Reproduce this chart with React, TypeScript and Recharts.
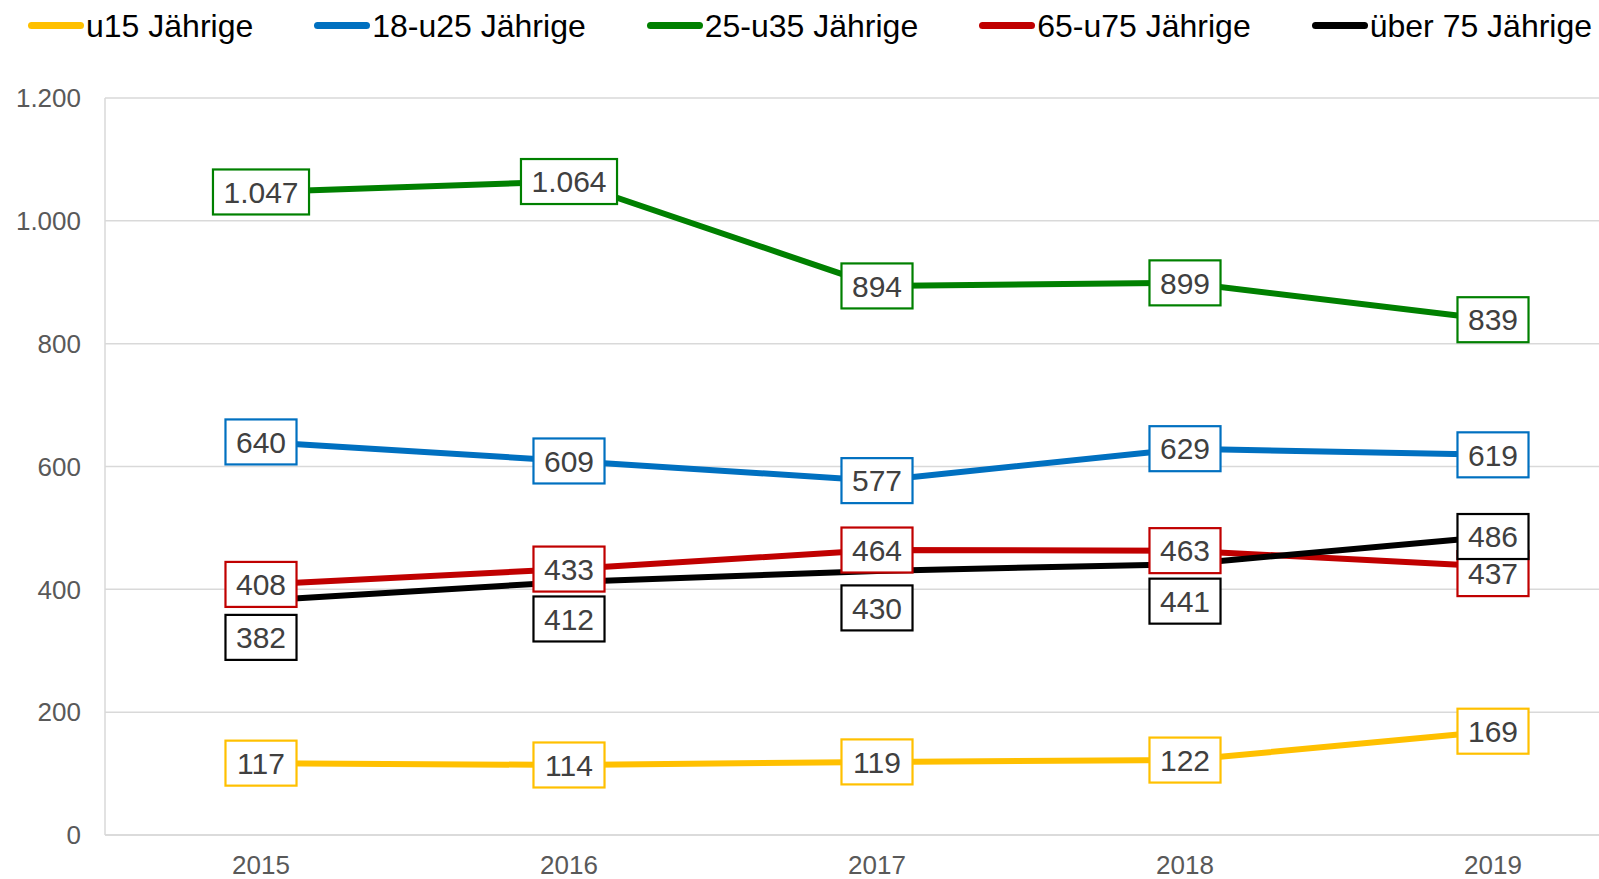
import { LineChart, Line, XAxis, YAxis, CartesianGrid, Legend, LabelList } from 'recharts';

const years = ['2015', '2016', '2017', '2018', '2019'];
const u15 = [117, 114, 119, 122, 169];
const u25 = [640, 609, 577, 629, 619];
const u35 = [1047, 1064, 894, 899, 839];
const u75 = [408, 433, 464, 463, 437];
const ue75 = [382, 412, 430, 441, 486];
const yTicks = [0, 200, 400, 600, 800, 1000, 1200];

const series = [
  { key: 'u15', name: 'u15 Jährige', color: '#FFC000', values: u15 },
  { key: 'u25', name: '18-u25 Jährige', color: '#0070C0', values: u25 },
  { key: 'u35', name: '25-u35 Jährige', color: '#008000', values: u35 },
  { key: 'u75', name: '65-u75 Jährige', color: '#C00000', values: u75 },
  { key: 'ue75', name: 'über 75 Jährige', color: '#000000', values: ue75 },
];

// label shifts (px) where Excel moved boxes off the point
const labelDy: Record<string, number[]> = {
  ue75: [37, 37, 37, 37, 0],
  u75: [0, 0, 0, 0, 7],
};

const chartData = years.map((year, i) => {
  const row: Record<string, string | number> = { year };
  series.forEach((s) => (row[s.key] = s.values[i]));
  return row;
});

const FONT = '"Liberation Sans", Arial, sans-serif';
const fmt = (v: number) => v.toLocaleString('de-DE');

const textW = (s: string, size: number) =>
  s.split('').reduce((w, c) => w + (c === '.' ? 0.278 : 0.556), 0) * size;

const makeLabel = (key: string, color: string) => (props: any) => {
  const { x, y, value, index } = props;
  if (x == null || y == null) return null;
  const txt = fmt(Number(value));
  const w = textW(txt, 30) + 21;
  const h = 45;
  const cy = Number(y) + (labelDy[key]?.[index] ?? 0);
  return (
    <g>
      <rect x={Number(x) - w / 2} y={cy - h / 2} width={w} height={h} fill="#fff" stroke={color} strokeWidth={2.2} />
      <text x={Number(x)} y={cy + 10.7} textAnchor="middle" fontSize={30} fill="#404040" fontFamily={FONT}>
        {txt}
      </text>
    </g>
  );
};

const renderLegend = () => (
  <div style={{ display: 'flex', gap: 61, fontFamily: FONT, fontSize: 32, lineHeight: '36px', color: '#000' }}>
    {series.map((s) => (
      <div key={s.key} style={{ display: 'flex', alignItems: 'center' }}>
        <span style={{ display: 'inline-block', width: 56, height: 7, borderRadius: 4, background: s.color, marginRight: 2, marginTop: -2 }} />
        <span style={{ whiteSpace: 'nowrap' }}>{s.name}</span>
      </div>
    ))}
  </div>
);

export default function App() {
  return (
    <div style={{ position: 'absolute', left: 0, top: 0, width: 1599, height: 879, overflow: 'hidden', background: '#fff' }}>
      <LineChart width={1646} height={879} data={chartData} margin={{ top: 98, right: 0, left: 0, bottom: 0 }}>
        <CartesianGrid vertical={false} stroke="#d9d9d9" strokeWidth={1.5} />
        <XAxis
          dataKey="year"
          height={44}
          padding={{ left: 156, right: 153 }}
          tickLine={false}
          tickSize={0}
          tickMargin={21}
          axisLine={{ stroke: '#d9d9d9', strokeWidth: 1.5 }}
          tick={{ fontSize: 26, fill: '#595959', fontFamily: FONT }}
        />
        <YAxis
          width={105}
          domain={[0, 1200]}
          ticks={yTicks}
          tickFormatter={fmt}
          tickLine={false}
          tickSize={0}
          tickMargin={24}
          axisLine={{ stroke: '#d9d9d9', strokeWidth: 1.5 }}
          tick={{ fontSize: 26, fill: '#595959', fontFamily: FONT }}
        />
        <Legend content={renderLegend} verticalAlign="middle" wrapperStyle={{ top: 8, left: 28, width: 'auto' }} />
        {series.map((s) => (
          <Line
            key={s.key}
            dataKey={s.key}
            name={s.name}
            stroke={s.color}
            strokeWidth={6}
            dot={false}
            activeDot={false}
            isAnimationActive={false}
          />
        ))}
        {series.map((s) => (
          <Line
            key={s.key + '-lbl'}
            dataKey={s.key}
            stroke="none"
            dot={false}
            activeDot={false}
            legendType="none"
            isAnimationActive={false}
          >
            <LabelList dataKey={s.key} content={makeLabel(s.key, s.color)} />
          </Line>
        ))}
      </LineChart>
    </div>
  );
}
